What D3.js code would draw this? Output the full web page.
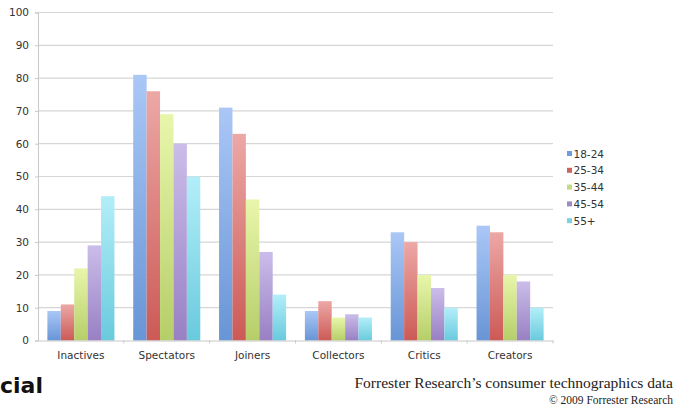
<!DOCTYPE html>
<html><head><meta charset="utf-8">
<script src="https://cdn.jsdelivr.net/npm/d3@7"></script>
<style>body{margin:0;background:#fff}svg{display:block}</style>
</head><body>
<script>
const categories = ["Inactives","Spectators","Joiners","Collectors","Critics","Creators"];
const seriesNames = ["18-24","25-34","35-44","45-54","55+"];
const s1824 = [9,81,71,9,33,35];
const s2534 = [11,76,63,12,30,33];
const s3544 = [22,69,43,7,20,20];
const s4554 = [29,60,27,8,16,18];
const s55 = [44,50,14,7,10,10];
const yTicks = [0,10,20,30,40,50,60,70,80,90,100];
const seriesValues = [s1824,s2534,s3544,s4554,s55];
const topColors = ["#aac7f6","#eca8a6","#e8f6ab","#cbbdea","#b3eef9"];
const botColors = ["#6895d6","#cc5a56","#b6ce69","#9880c3","#69cadd"];
const legendColors = ["#6f9cdc","#d0625f","#c4da80","#9e88c8","#78d2e4"];

const W=675,H=407;
const svg=d3.select("body").append("svg").attr("width",W).attr("height",H);
const defs=svg.append("defs");
seriesNames.forEach((n,i)=>{
  const g=defs.append("linearGradient").attr("id","g"+i).attr("x1",0).attr("y1",0).attr("x2",0).attr("y2",1);
  g.append("stop").attr("offset","0%").attr("stop-color",topColors[i]);
  g.append("stop").attr("offset","100%").attr("stop-color",botColors[i]);
});
const mLeft=38,mRight=553,mTop=12.5,mBottom=340.5;
const y=d3.scaleLinear().domain([0,100]).range([mBottom,mTop]);
const x0=d3.scaleBand().domain(categories).range([mLeft,mRight]).paddingInner(0).paddingOuter(0);
const x1=d3.scaleBand().domain(seriesNames).range([0,x0.bandwidth()]).paddingOuter(0.7).paddingInner(0);

const font="'DejaVu Sans', Verdana, sans-serif";
// grid
svg.append("g").selectAll("line").data(yTicks.filter(d=>d>0)).join("line")
  .attr("x1",mLeft).attr("x2",mRight).attr("y1",d=>y(d)).attr("y2",d=>y(d))
  .attr("stroke","#d6d6d6").attr("stroke-width",1.2);
// y axis
const ya=svg.append("g").attr("transform",`translate(${mLeft},0)`)
  .call(d3.axisLeft(y).tickValues(yTicks).tickSize(3).tickPadding(6));
ya.select(".domain").attr("stroke","#c8c8c8");
ya.selectAll(".tick line").attr("stroke","#c8c8c8");
ya.selectAll("text").attr("font-family",font).attr("font-size","10.5px").attr("fill","#333");
// bars
const groups=svg.append("g").selectAll("g").data(categories).join("g")
  .attr("transform",d=>`translate(${x0(d)},0)`);
groups.selectAll("rect").data((c,ci)=>seriesNames.map((s,si)=>({s,si,v:seriesValues[si][ci]}))).join("rect")
  .attr("x",d=>x1(d.s)).attr("width",x1.bandwidth())
  .attr("y",d=>y(d.v)).attr("height",d=>y(0)-y(d.v))
  .attr("fill",d=>`url(#g${d.si})`);
// x axis
const xa=svg.append("g").attr("transform",`translate(0,${mBottom})`)
  .call(d3.axisBottom(x0).tickSize(0).tickPadding(11));
xa.select(".domain").attr("stroke","#c8c8c8");
xa.selectAll("text").attr("font-family",font).attr("font-size","10.5px").attr("fill","#333");
svg.append("g").selectAll("line").data(categories).join("line")
  .attr("x1",(d,i)=>mLeft+x0.step()*(i+1)).attr("x2",(d,i)=>mLeft+x0.step()*(i+1))
  .attr("y1",mBottom).attr("y2",mBottom+3).attr("stroke","#c8c8c8");
// legend
const lg=svg.append("g").selectAll("g").data(seriesNames).join("g")
  .attr("transform",(d,i)=>`translate(567,${154+i*16.8})`);
lg.append("rect").attr("x",0).attr("y",-3).attr("width",5).attr("height",5).attr("fill",(d,i)=>legendColors[i]);
lg.append("text").attr("x",6.5).attr("y",0).attr("dy","0.35em").text(d=>d)
  .attr("font-family",font).attr("font-size","10.5px").attr("fill","#333");
// other text
svg.append("text").attr("x",0).attr("y",393).text("cial")
  .attr("font-family","'DejaVu Sans', Verdana, sans-serif").attr("font-weight","bold").attr("font-size","22px").attr("fill","#111");
svg.append("text").attr("x",673).attr("y",388).attr("text-anchor","end").text("Forrester Research’s consumer technographics data")
  .attr("font-family","'Liberation Serif','DejaVu Serif',serif").attr("font-size","15.5px").attr("fill","#222");
svg.append("text").attr("x",673).attr("y",404).attr("text-anchor","end").text("© 2009 Forrester Research")
  .attr("font-family","'Liberation Serif','DejaVu Serif',serif").attr("font-size","11.5px").attr("fill","#222");
</script>
</body></html>
